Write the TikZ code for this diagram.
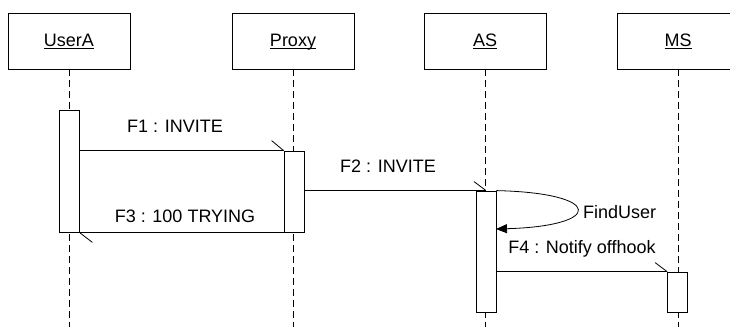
\documentclass[tikz,border=0pt]{standalone}
\usepackage{fontspec}
\setmainfont{Liberation Sans}
\usetikzlibrary{arrows.meta}
\newcommand{\ulname}[1]{\underline{\vphantom{A}\smash{#1}}}
\begin{document}
\begin{tikzpicture}[x=1pt,y=-1pt,
  part/.style={draw, line width=0.8pt, minimum width=122pt, minimum height=56pt, inner sep=0pt, font=\fontsize{18}{20}\selectfont},
  actbox/.style={draw, fill=white, line width=0.8pt, minimum width=20pt, inner sep=0pt},
  life/.style={dash pattern=on 7pt off 4pt, line width=0.8pt},
  msg/.style={line width=0.8pt},
  lbl/.style={font=\fontsize{18}{20}\selectfont, inner sep=0pt, anchor=base},
  pname/.style={font=\fontsize{18}{20}\selectfont, inner sep=0pt, anchor=base}]
\useasboundingbox (0,0) rectangle (730,327);
% participants
\node[part] (ua) at (69,41) {};
\node[part] (px) at (293,41) {};
\node[part] (as) at (485,41) {};
\node[part] (ms) at (678,41) {};
\node[pname] (uat) at (69,46.7) {\ulname{UserA}};
\node[pname] (pxt) at (293,46.7) {\ulname{Proxy}};
\node[pname] (ast) at (485,46.7) {\ulname{AS}};
\node[pname] (mst) at (678,46.7) {\ulname{MS}};
% lifeline ends
\coordinate (uaend) at (69,327);
\coordinate (pxend) at (293,327);
\coordinate (asend) at (485,327);
\coordinate (msend) at (678,327);
\draw[life] (ua.south) -- (uaend);
\draw[life] (px.south) -- (pxend);
\draw[life] (as.south) -- (asend);
\draw[life] (ms.south) -- (msend);
% activations
\node[actbox, minimum height=122pt] (uaa) at (69,171) {};
\node[actbox, minimum height=81pt] (pxa) at (294,191.5) {};
\node[actbox, minimum height=121pt] (asa) at (486,251.5) {};
\node[actbox, minimum height=40pt] (msa) at (677.5,292) {};
% F1
\coordinate (f1s) at (uaa.east |- pxa.north);
\draw[msg] (f1s) -- (pxa.north west);
\draw[msg] (pxa.north west) -- ++(-12,-10);
% F3
\coordinate (f3e) at (uaa.east |- pxa.south);
\draw[msg] (pxa.south west) -- (f3e);
\draw[msg] (f3e) -- ++(13,10);
% F2
\coordinate (f2s) at (pxa.east |- asa.north);
\draw[msg] (f2s) -- (asa.north);
\draw[msg] (asa.north) -- ++(-12,-9);
% self message
\coordinate (selfend) at (496,229);
\draw[msg, -{Triangle[length=11pt,width=9pt]}] (asa.north east) .. controls (604,193) and (604,226) .. (selfend);
% F4
\coordinate (f4s) at (asa.east |- msa.north);
\draw[msg] (f4s) -- (msa.north west);
\draw[msg] (msa.north west) -- ++(-12,-9);
% labels
\node[lbl] (l1) at (175,132.7) {F1 : INVITE};
\node[lbl] (l3) at (185,222.7) {F3 : 100 TRYING};
\node[lbl] (l2) at (388,172.7) {F2 : INVITE};
\node[lbl, anchor=base west] (lf) at (583,218) {FindUser};
\node[lbl] (l4) at (582,253) {F4 : Notify offhook};
\end{tikzpicture}
\end{document}
